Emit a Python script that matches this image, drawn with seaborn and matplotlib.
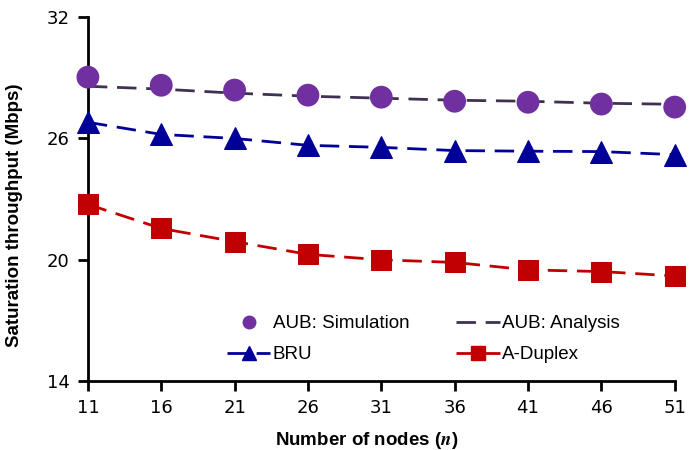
import numpy as np
import pandas as pd
import matplotlib
matplotlib.use("Agg")
import matplotlib.pyplot as plt
import seaborn as sns
from matplotlib.lines import Line2D

nodes = [11, 16, 21, 26, 31, 36, 41, 46, 51]
aub_sim = [29.03, 28.63, 28.39, 28.14, 28.04, 27.84, 27.79, 27.70, 27.55]
aub_ana = [28.58, 28.44, 28.24, 28.09, 27.99, 27.89, 27.84, 27.74, 27.69]
bru = [26.80, 26.20, 26.00, 25.66, 25.56, 25.40, 25.37, 25.35, 25.20]
a_duplex = [22.74, 21.55, 20.90, 20.27, 20.00, 19.87, 19.50, 19.42, 19.20]

sns.set_style("ticks")
plt.rcParams['font.family'] = ['DejaVu Sans']
plt.rcParams['mathtext.fontset'] = 'stix'
plt.rcParams['text.color'] = 'black'
plt.rcParams['axes.labelcolor'] = 'black'
plt.rcParams['xtick.color'] = 'black'
plt.rcParams['ytick.color'] = 'black'

fig = plt.figure(figsize=(6.92, 4.5), dpi=100)
ax = fig.add_axes([0.127, 0.153, 0.848, 0.809])

dash = (0, (7, 3.5))
lw = 2.0

sns.lineplot(x=nodes, y=aub_ana, ax=ax, color="#403152", linewidth=lw,
             linestyle=dash, zorder=2, clip_on=False)
sns.lineplot(x=nodes, y=bru, ax=ax, color="#000099", linewidth=lw,
             linestyle=dash, marker="^", markersize=16, markeredgecolor="#000099",
             zorder=3, clip_on=False)
sns.lineplot(x=nodes, y=a_duplex, ax=ax, color="#C00000", linewidth=lw,
             linestyle=dash, marker="s", markersize=14, markeredgecolor="#C00000",
             zorder=3, clip_on=False)
sns.scatterplot(x=nodes, y=aub_sim, ax=ax, color="#7030A0", s=270,
                edgecolor="none", zorder=4, clip_on=False)

ax.set_xlim(11, 51)
ax.set_ylim(14, 32)
ax.set_xticks(nodes)
ax.set_yticks([14, 20, 26, 32])
ax.tick_params(axis="both", labelsize=13, width=2, length=7, direction="out",
               color="black", labelcolor="black", pad=6)
for s in ["left", "bottom"]:
    ax.spines[s].set_linewidth(2)
    ax.spines[s].set_color("black")
sns.despine(ax=ax)

ax.set_xlabel(r"Number of nodes ($\mathbfit{n}$)", fontsize=13.5,
              fontweight="bold", family="Liberation Sans")
ax.set_ylabel("Saturation throughput (Mbps)", fontsize=13.5,
              fontweight="bold", family="Liberation Sans")
ax.xaxis.set_label_coords(0.475, -0.133)
ax.yaxis.set_label_coords(-0.11, 0.455)

handles = [
    Line2D([], [], color="#7030A0", marker="o", linestyle="none", markersize=9),
    Line2D([], [], color="#000099", marker="^", linestyle=dash, linewidth=lw,
           markersize=10),
    Line2D([], [], color="#403152", linestyle=dash, linewidth=lw),
    Line2D([], [], color="#C00000", marker="s", linestyle=dash, linewidth=lw,
           markersize=10),
]
labels = ["AUB: Simulation", "BRU", "AUB: Analysis", "A-Duplex"]
ax.legend(handles, labels, ncol=2, frameon=False, loc="center",
          bbox_to_anchor=(0.572, 0.115),
          prop={"family": "Liberation Sans", "size": 13.5},
          handlelength=2.3, handletextpad=0.15, columnspacing=2.5,
          labelspacing=0.75)

fig.savefig("out.png", dpi=100)
